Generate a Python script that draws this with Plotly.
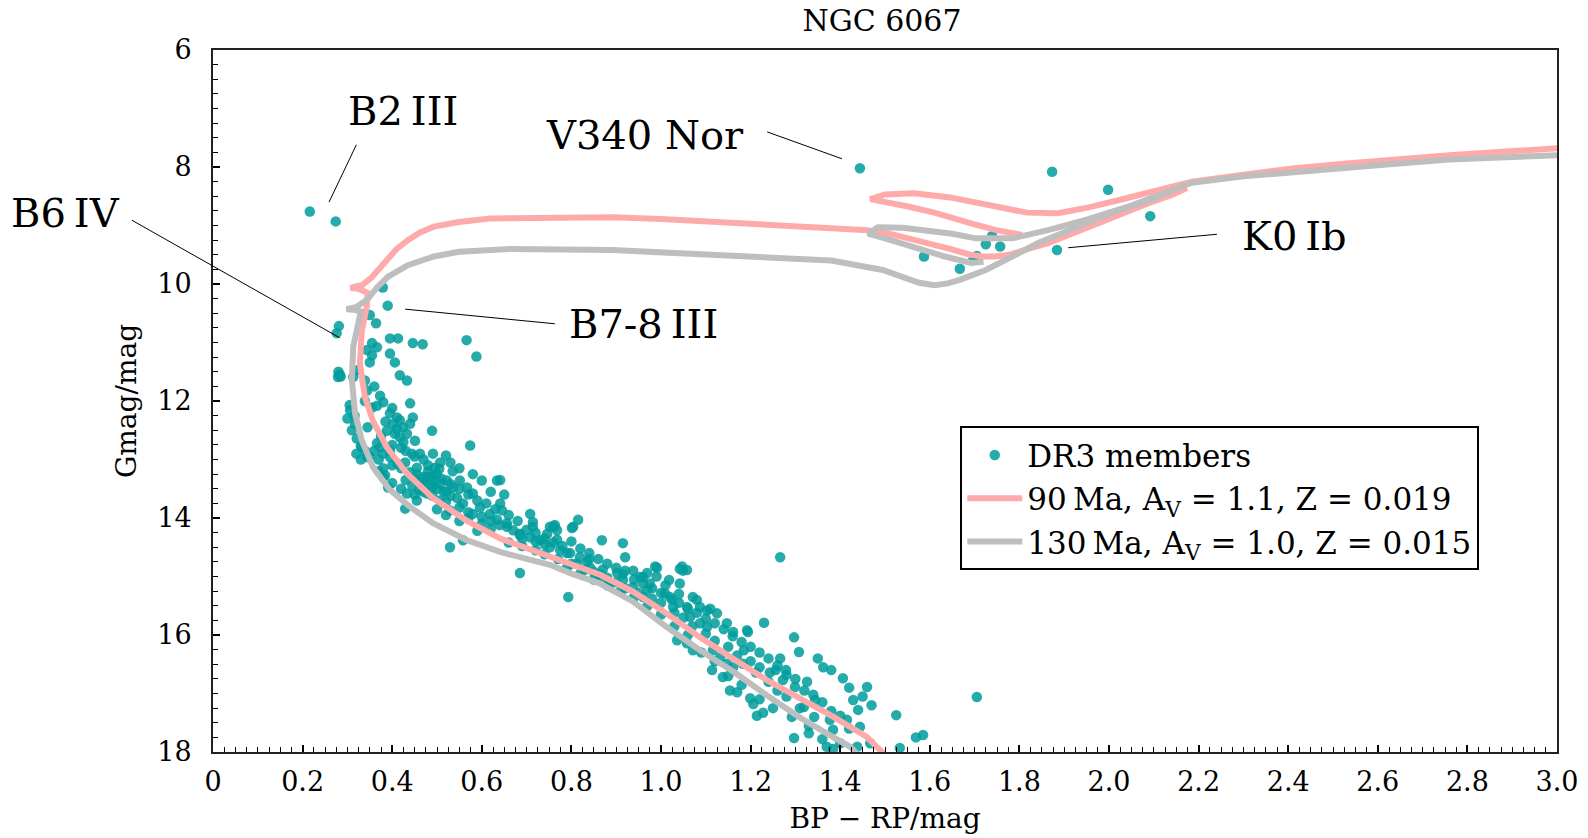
import plotly.graph_objects as go

# ---------------- data ----------------
# DR3 members (BP-RP, Gmag)
bp_rp = [
    0.216, 0.274, 1.444, 1.873, 1.998, 2.092, 1.884, 1.587, 1.667, 1.739, 1.725, 1.757, 1.697, 1.705,
    0.379, 0.390, 0.281, 0.276, 0.350, 0.364, 0.395, 0.413, 0.446, 0.468, 0.566, 0.588,
    0.355, 0.366, 0.355, 0.344, 0.350, 0.395, 0.406, 0.417, 0.433, 0.279, 0.283, 0.313, 0.324,
    0.339, 0.344, 0.373, 0.339, 0.355, 0.366, 0.306, 0.317, 0.440, 0.395, 0.411, 0.417, 0.402,
    0.424, 0.440, 0.388, 0.406, 0.417, 0.446, 0.366, 0.379, 0.373, 0.332, 0.344, 0.433, 0.451,
    0.444, 0.489, 0.395, 0.411, 0.429, 0.455, 0.462, 0.491, 0.507, 0.520, 0.495, 0.574, 0.384,
    0.391, 0.478, 0.491, 0.507, 0.522, 0.536, 0.551, 0.567, 0.580, 0.600, 0.634, 0.433, 0.455,
    0.478, 0.507, 0.429, 0.529, 0.558, 0.580, 0.596, 0.618, 0.634, 0.656, 0.685, 0.708, 0.714,
    0.746, 0.760, 0.768, 0.804, 0.815, 0.529, 0.558, 0.685, 0.868, 0.915, 0.920, 1.266, 0.991,
    1.042, 1.049, 0.790, 0.812, 0.842, 0.864, 0.915, 0.938, 0.960,
    0.460, 0.470, 0.485, 0.500, 0.515, 0.460, 0.445, 0.530, 0.545, 0.520, 0.490, 0.470, 0.455,
    0.480, 0.500, 0.535, 0.505,
    0.280, 0.285, 0.305, 0.316, 0.321, 0.330, 0.339,
    0.641, 0.641, 0.645, 0.656, 0.670, 0.685, 0.714, 0.752, 0.763, 0.768, 0.801, 0.708, 0.730,
    0.752, 0.775, 0.797, 0.819, 0.835, 0.793, 0.864, 0.886, 0.902, 0.915, 0.938, 0.953, 0.969,
    0.975, 0.969, 0.960, 0.987, 1.018, 1.009, 1.025, 1.042, 1.047, 1.058, 1.027, 1.058, 1.071,
    1.087, 1.103, 1.125, 1.065, 1.087, 1.103, 1.147, 1.161, 1.192, 1.194, 1.036, 1.058, 1.071,
    1.116, 1.132, 1.147, 1.161, 1.114, 1.138, 1.154, 1.170, 1.185, 1.230, 1.183, 1.212, 1.243,
    1.256, 1.279, 1.272, 1.199, 1.206, 1.214, 1.228, 1.266, 1.297, 1.308, 1.299, 1.326, 1.344,
    1.342, 1.319, 1.292, 1.297, 1.330, 1.362, 1.406, 1.460, 1.429, 1.440, 1.444, 1.377, 1.384,
    1.415, 1.525, 1.569, 1.585, 1.705, 1.370, 1.384, 1.438, 1.533, 1.467,
    0.660, 0.690, 0.720, 0.740, 0.770, 0.800, 0.830, 0.850, 0.880, 0.900, 0.920, 0.950, 0.980,
    1.000, 1.030, 1.050, 1.070, 1.100, 1.120, 1.150, 1.170, 1.200, 1.220, 1.240, 1.260, 1.280,
    1.310, 0.570, 0.600, 0.620, 0.590, 0.550, 0.520, 0.500,
    0.400, 0.420, 0.440, 0.430, 0.450, 0.470, 0.490, 0.510, 0.530, 0.550, 0.570, 0.590, 0.610,
    0.630, 0.550, 0.570, 0.600, 0.620, 0.640, 0.520, 0.490, 0.470, 0.450, 0.420, 0.400, 0.380,
    0.370, 0.360, 0.400, 0.420, 0.450, 0.470, 0.480, 0.530, 0.550, 0.580, 0.620, 0.650, 0.660,
    0.680, 0.700, 0.720, 0.740, 0.760, 0.780, 0.800, 0.820, 0.840, 0.860, 0.880, 0.900, 0.920,
    0.940, 0.960, 0.980, 1.000, 1.020, 1.040, 1.060, 1.080, 1.100, 1.120, 1.140, 1.160, 1.180,
    1.200, 1.220, 1.240, 1.260, 1.280, 1.300, 1.320, 1.340, 1.360, 1.380, 1.400, 1.420, 1.360,
    1.400, 1.330, 1.250, 1.220, 1.180, 1.150, 1.120, 1.090, 1.060, 1.030, 1.000, 0.970, 0.940,
    0.910, 0.880, 0.850, 0.820, 0.790, 0.350, 0.370, 0.380, 0.300, 0.310, 0.320, 0.330, 1.350,
    1.380, 1.420, 1.450, 1.470,
    0.380, 0.400, 0.385, 0.410, 0.425, 0.375, 0.395, 0.430, 0.360, 0.345, 0.990, 1.010, 1.040,
    1.080, 1.110, 0.870, 0.840, 0.740, 0.720, 0.690,
]
gmag = [
    8.76, 8.93, 8.02, 8.08, 8.39, 8.84, 9.42, 9.53, 9.74, 9.18, 9.32, 9.36, 9.59, 9.52,
    10.06, 10.37, 10.72, 10.84, 10.53, 10.67, 10.93, 10.93, 11.01, 11.03, 10.96, 11.24,
    11.01, 11.08, 11.22, 11.13, 11.34, 11.19, 11.34, 11.56, 11.65, 11.59, 11.55, 11.59, 11.47,
    11.65, 11.82, 11.91, 12.00, 12.11, 12.08, 12.16, 12.39, 12.04, 12.21, 12.28, 12.33, 12.39,
    12.45, 12.39, 12.51, 12.56, 12.62, 12.28, 12.72, 12.90, 12.79, 12.79, 12.96, 12.56, 12.68,
    12.90, 12.51, 12.96, 13.07, 13.05, 13.14, 12.90, 12.90, 13.05, 12.93, 13.14, 12.76, 13.27,
    13.48, 13.30, 13.36, 13.41, 13.36, 13.48, 13.36, 13.48, 13.58, 13.36, 13.36, 13.58, 13.70,
    13.58, 13.70, 13.84, 13.87, 13.75, 13.93, 13.82, 13.93, 14.03, 14.15, 14.27, 13.93, 14.15,
    14.27, 14.15, 14.37, 14.15, 14.03, 14.50, 14.38, 14.94, 14.38, 14.43, 14.67, 14.67, 14.85,
    14.87, 14.90, 14.60, 14.78, 14.85, 14.96, 14.96, 14.90, 15.01,
    13.40, 13.45, 13.42, 13.50, 13.55, 13.52, 13.45, 13.62, 13.66, 13.72, 13.62, 13.30, 13.25,
    13.20, 13.25, 13.20, 13.16,
    11.50, 11.58, 12.07, 12.25, 12.64, 12.77, 12.85,
    13.35, 13.75, 13.87, 14.09, 14.21, 14.29, 14.07, 14.15, 14.12, 14.21, 14.17, 14.33, 14.38,
    14.50, 14.55, 14.60, 14.67, 14.75, 15.35, 15.01, 15.12, 14.94, 15.06, 15.18, 15.01, 14.94,
    15.12, 15.23, 15.35, 14.83, 15.06, 15.29, 15.40, 15.12, 14.83, 14.89, 15.52, 15.52, 15.35,
    15.52, 15.58, 15.63, 15.69, 15.80, 15.86, 15.80, 15.95, 15.92, 15.95, 16.09, 16.14, 16.26,
    16.26, 16.38, 16.49, 16.55, 16.60, 16.72, 16.95, 16.98, 16.26, 15.79, 16.49, 16.64, 16.64,
    16.60, 16.60, 16.77, 17.08, 17.18, 17.38, 17.33, 16.40, 16.04, 16.29, 16.89, 16.80, 17.11,
    17.40, 17.23, 17.40, 17.76, 17.68, 16.55, 16.74, 16.89, 17.11, 17.28, 17.57, 17.45, 17.62,
    17.45, 17.37, 17.75, 17.71, 17.06, 17.91, 17.95, 17.91, 17.93, 17.85,
    14.42, 14.48, 14.55, 14.62, 14.70, 14.78, 14.88, 14.92, 15.02, 15.10, 15.20, 15.28, 15.38,
    15.45, 15.62, 15.70, 15.85, 15.98, 16.10, 16.20, 16.35, 16.45, 16.55, 16.80, 16.95, 17.05,
    17.25, 14.00, 14.10, 14.18, 14.22, 14.05, 13.95, 13.85,
    13.10, 13.15, 13.22, 13.35, 13.32, 13.38, 13.28, 13.33, 13.42, 13.50, 13.60, 13.70, 13.75,
    13.85, 13.82, 13.90, 13.98, 14.05, 14.12, 13.55, 13.48, 13.55, 13.60, 13.50, 13.40, 13.15,
    13.00, 12.85, 12.75, 12.80, 12.95, 13.00, 13.10, 13.05, 13.15, 13.25, 13.55, 13.60, 13.95,
    14.05, 14.20, 14.25, 14.35, 14.42, 14.48, 14.40, 14.52, 14.60, 14.70, 14.78, 14.85, 14.90,
    15.05, 15.12, 15.20, 15.28, 15.35, 15.45, 15.55, 15.62, 15.72, 15.80, 15.90, 16.02, 16.12,
    16.20, 16.30, 16.40, 16.52, 16.68, 16.75, 16.95, 17.02, 17.15, 17.30, 17.38, 17.60, 17.78,
    17.85, 17.55, 17.25, 17.10, 16.85, 16.70, 16.45, 16.30, 16.00, 15.85, 15.65, 15.50, 15.35,
    15.25, 15.15, 15.05, 14.95, 14.85, 12.95, 13.20, 13.30, 12.30, 12.50, 12.90, 13.00, 16.40,
    16.60, 16.90, 17.05, 17.20,
    12.02, 12.12, 12.35, 12.48, 12.70, 12.60, 12.85, 12.85, 11.75, 12.45, 15.00, 15.15, 15.30,
    15.40, 15.55, 14.88, 14.70, 14.45, 14.40, 14.35,
]

# Isochrone 90 Ma, Av = 1.1, Z = 0.019 (None separates segments)
iso90_x = [
    1.500, 1.459, 1.385, 1.310, 1.236, 1.162, 1.087, 1.012, 0.938, 0.864, 0.752, 0.641, 0.567,
    0.491, 0.433, 0.388, 0.357, 0.339, 0.328, 0.332, 0.343, 0.345, 0.325, 0.307, 0.318, 0.333,
    0.355, 0.372, 0.390, 0.410, 0.435, 0.462, 0.493, 0.549, 0.618, 0.750, 0.891, 1.000, 1.118,
    1.290, 1.400, 1.461, 1.510, 1.554, 1.600, 1.645, 1.690, 1.717, 1.745, 1.777, 1.820, 1.864,
    1.910, 1.955, 2.000, 2.047, 2.094, 2.140, 2.174, None,
    1.806, 1.748, 1.700, 1.667, 1.610, 1.554, 1.500, 1.467, 1.500, 1.565, 1.645, 1.700, 1.748,
    1.817, 1.886, 1.955, 2.025, 2.094, 2.185, 2.300, 2.415, 2.530, 2.647, 2.760, 2.877, 3.000,
]
iso90_g = [
    18.05, 17.74, 17.40, 17.08, 16.77, 16.41, 16.04, 15.63, 15.26, 14.97, 14.66, 14.35, 14.05,
    13.66, 13.24, 12.79, 12.34, 11.93, 11.36, 10.80, 10.40, 10.15, 10.08, 10.07, 10.04, 10.02,
    9.88, 9.72, 9.58, 9.40, 9.25, 9.12, 9.02, 8.94, 8.88, 8.86, 8.86, 8.89, 8.94,
    9.02, 9.05, 9.08, 9.14, 9.22, 9.30, 9.40, 9.50, 9.53, 9.53, 9.50, 9.40, 9.30,
    9.16, 9.02, 8.88, 8.73, 8.60, 8.48, 8.36, None,
    9.16, 9.08, 8.98, 8.90, 8.78, 8.68, 8.60, 8.55, 8.47, 8.45, 8.52, 8.61, 8.69,
    8.78, 8.79, 8.69, 8.56, 8.42, 8.25, 8.13, 8.02, 7.94, 7.86, 7.80, 7.74, 7.68,
]

# Isochrone 130 Ma, Av = 1.0, Z = 0.015
iso130_x = [
    1.440, 1.422, 1.385, 1.310, 1.236, 1.162, 1.087, 1.012, 0.938, 0.864, 0.800, 0.752, 0.700,
    0.641, 0.567, 0.491, 0.440, 0.395, 0.357, 0.332, 0.317, 0.310, 0.313, 0.324, 0.330, 0.315,
    0.298, 0.321, 0.344, 0.367, 0.390, 0.435, 0.493, 0.549, 0.663, 0.891, 1.118, 1.266, 1.380,
    1.495, 1.540, 1.576, 1.610, 1.640, 1.667, 1.725, 1.784, 1.842, 1.911, 2.002, 2.094, 2.163, None,
    1.720, 1.692, 1.634, 1.554, 1.500, 1.462, 1.484, 1.540, 1.596, 1.650, 1.703, 1.784, 1.864,
    1.950, 2.050, 2.120, 2.185, 2.300, 2.415, 2.530, 2.647, 2.760, 2.877, 3.000,
]
iso130_g = [
    18.05, 17.91, 17.75, 17.41, 17.03, 16.63, 16.26, 15.86, 15.43, 15.12, 14.95, 14.80, 14.70,
    14.58, 14.38, 14.09, 13.81, 13.52, 13.13, 12.67, 12.21, 11.64, 11.07, 10.62, 10.47, 10.44,
    10.43, 10.39, 10.27, 10.05, 9.88, 9.68, 9.53, 9.45, 9.40, 9.42, 9.50, 9.55, 9.60,
    9.76, 9.88, 9.98, 10.02, 9.99, 9.93, 9.76, 9.53, 9.30, 9.08, 8.79, 8.56, 8.33, None,
    9.62, 9.64, 9.53, 9.33, 9.22, 9.14, 9.03, 9.04, 9.08, 9.14, 9.22, 9.22, 9.08,
    8.90, 8.66, 8.45, 8.27, 8.16, 8.08, 8.01, 7.94, 7.87, 7.83, 7.80,
]

x_tickvals = [0, 0.2, 0.4, 0.6, 0.8, 1.0, 1.2, 1.4, 1.6, 1.8, 2.0, 2.2, 2.4, 2.6, 2.8, 3.0]
x_ticktext = ["0", "0.2", "0.4", "0.6", "0.8", "1.0", "1.2", "1.4", "1.6", "1.8", "2.0",
              "2.2", "2.4", "2.6", "2.8", "3.0"]
y_tickvals = [6, 8, 10, 12, 14, 16, 18]
y_ticktext = ["6", "8", "10", "12", "14", "16", "18"]

# star labels: text, label position, leader line start / end (data units)
labels = ["B2\u2009III", "V340 Nor", "B6\u2009IV", "B7-8\u2009III", "K0\u2009Ib"]
label_x = [0.424, 0.964, -0.330, 0.960, 2.413]
label_g = [7.04, 7.45, 8.79, 10.68, 9.18]
line_x0 = [0.320, 1.237, -0.181, 0.763, 2.241]
line_g0 = [7.62, 7.40, 8.91, 10.68, 9.15]
line_x1 = [0.259, 1.404, 0.283, 0.429, 1.909]
line_g1 = [8.60, 7.86, 10.92, 10.43, 9.38]

X_RANGE = [0.0, 3.0]
Y_RANGE = [18.0, 6.0]


def to_paper_x(v):
    return (v - X_RANGE[0]) / (X_RANGE[1] - X_RANGE[0])


def to_paper_y(v):
    return (v - Y_RANGE[0]) / (Y_RANGE[1] - Y_RANGE[0])


SERIF = "DejaVu Serif"

fig = go.Figure()
fig.add_trace(go.Scatter(
    x=bp_rp, y=gmag, mode="markers", name="DR3 members",
    marker=dict(color="#009c9c", size=10.5, opacity=0.85, line=dict(width=0)),
    legendgroup="a",
))
fig.add_trace(go.Scatter(
    x=iso90_x, y=iso90_g, mode="lines", connectgaps=False,
    name="90\u2009Ma, A<sub>V</sub> = 1.1, Z = 0.019",
    line=dict(color="#ffaaaa", width=6), legendgroup="b",
))
fig.add_trace(go.Scatter(
    x=iso130_x, y=iso130_g, mode="lines", connectgaps=False,
    name="130\u2009Ma, A<sub>V</sub> = 1.0, Z = 0.015",
    line=dict(color="#bebebe", width=6), legendgroup="c",
))

annotations = []
for t, lx, lg in zip(labels, label_x, label_g):
    annotations.append(dict(x=to_paper_x(lx), y=to_paper_y(lg), xref="paper", yref="paper",
                            xanchor="center", yanchor="middle",
                            text=t, showarrow=False,
                            font=dict(family=SERIF, size=40, color="black")))
shapes = []
for x0, g0, x1, g1 in zip(line_x0, line_g0, line_x1, line_g1):
    shapes.append(dict(type="line", xref="paper", yref="paper",
                       x0=to_paper_x(x0), y0=to_paper_y(g0),
                       x1=to_paper_x(x1), y1=to_paper_y(g1),
                       line=dict(color="black", width=1)))

fig.update_layout(
    width=1588, height=838,
    margin=dict(l=213, r=31, t=50, b=86),
    paper_bgcolor="white", plot_bgcolor="white",
    font=dict(family=SERIF, color="black"),
    title=dict(text="NGC 6067", x=(882 / 1588), xanchor="center", y=0.975, yanchor="middle",
               font=dict(family=SERIF, size=30, color="black")),
    showlegend=True,
    legend=dict(
        x=0.556, y=0.464, xanchor="left", yanchor="top",
        bordercolor="black", borderwidth=2, bgcolor="white",
        font=dict(family=SERIF, size=31, color="black"),
        traceorder="grouped", tracegroupgap=0, itemwidth=55,
    ),
    annotations=annotations,
    shapes=shapes,
)

fig.update_xaxes(
    range=X_RANGE, showgrid=False, zeroline=False, automargin=False,
    showline=True, mirror=True, linecolor="#222", linewidth=2,
    tickmode="array", tickvals=x_tickvals, ticktext=x_ticktext,
    ticks="inside", ticklen=7, tickwidth=1.5, tickcolor="black",
    minor=dict(ticks="inside", ticklen=5, tickwidth=1, tickcolor="black",
               tick0=0, dtick=0.025, showgrid=False),
    tickfont=dict(family=SERIF, size=27, color="black"),
    ticklabelstandoff=5,
    title=dict(text="BP \u2212 RP/mag", font=dict(family=SERIF, size=28, color="black"),
               standoff=12),
)
fig.update_yaxes(
    range=Y_RANGE, showgrid=False, zeroline=False, automargin=False,
    showline=True, mirror=True, linecolor="#222", linewidth=2,
    tickmode="array", tickvals=y_tickvals, ticktext=y_ticktext,
    ticks="inside", ticklen=7, tickwidth=1.5, tickcolor="black",
    minor=dict(ticks="inside", ticklen=5, tickwidth=1, tickcolor="black",
               tick0=6, dtick=0.25, showgrid=False),
    tickfont=dict(family=SERIF, size=27, color="black"),
    ticklabelstandoff=14,
    title=dict(text="Gmag/mag", font=dict(family=SERIF, size=28, color="black"),
               standoff=12),
)

fig.write_html("out.html")
